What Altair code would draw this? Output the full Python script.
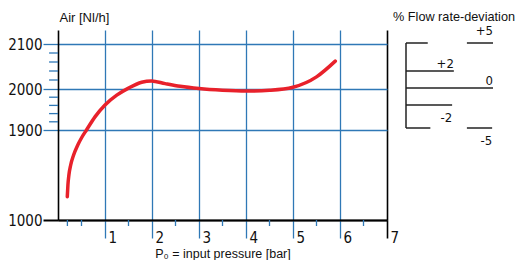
import altair as alt
import pandas as pd

# ---- data ----
pressure = [0.198, 0.211, 0.232, 0.270, 0.332, 0.421, 0.511, 0.606, 0.787, 1.0, 1.25, 1.5, 1.78, 1.99, 2.28, 2.6, 3.0, 3.5, 4.0, 4.5, 5.0, 5.5, 5.9]
air = [1233, 1350, 1450, 1550, 1650, 1750, 1830, 1900, 1932, 1961, 1985, 2002, 2015, 2018, 2012, 2006, 2001, 1997, 1995, 1997, 2004, 2027, 2062]

y_ticks = [1000, 1900, 2000, 2100]
y_minor = [1920, 1940, 1960, 1980, 2020, 2040, 2060, 2080]
x_ticks = [1, 2, 3, 4, 5, 6, 7]
x_minor = [0.2, 0.5, 1.5, 2.5, 3.5, 4.5, 5.5, 6.5]

dev_levels = [5, 5, 2, 0, -2, -5, -5]
dev_start = [0, 0.70, 0, 0, 0, 0, 0.70]
dev_end = [0.25, 1.0, 0.55, 1.0, 0.53, 0.28, 0.99]
dev_label_vals = [5, 2, 0, -2, -5]
dev_label_text = ["+5", "+2", "0", "-2", "-5"]
dev_label_pos = [1.0, 0.55, 1.0, 0.53, 0.99]

BLUE = "#2f78b6"
RED = "#e8212b"
NUM_FONT = "Liberation Sans Narrow, DejaVu Sans Condensed"
TXT_FONT = "Liberation Sans"

xscale = alt.Scale(domain=[0, 7], nice=False, zero=False)
yscale = alt.Scale(domain=[1000, 1900, 2000, 2100, 2130], range=[190, 100, 59, 14, 0], nice=False, zero=False)

curve_df = pd.DataFrame({"p": pressure, "air": air})

x_axis = alt.Axis(
    values=x_ticks,
    format="d",
    tickSize=18,
    tickColor={"condition": {"test": "datum.value === 7", "value": "#000"}, "value": BLUE},
    tickWidth={"condition": {"test": "datum.value === 7", "value": 1.6}, "value": 1.3},
    grid=True,
    gridColor={"condition": {"test": "datum.value === 7", "value": "#000"}, "value": BLUE},
    gridWidth={"condition": {"test": "datum.value === 7", "value": 1.6}, "value": 1.3},
    gridOpacity=1,
    domainColor="#000",
    domainWidth=2,
    labelAlign="left",
    labelBaseline="top",
    labelOffset=3,
    labelPadding=-8,
    labelFont=NUM_FONT,
    labelFontSize=15,
    labelColor="#111",
    title="P₀ = input pressure [bar]",
    titleFont=TXT_FONT,
    titleFontSize=12.5,
    titleFontWeight="normal",
    titleColor="#111",
    titleBaseline="alphabetic",
    titleY=37,
)

y_axis = alt.Axis(
    values=y_ticks,
    format="d",
    tickSize=15,
    tickColor={"condition": {"test": "datum.value === 1000", "value": "#000"}, "value": BLUE},
    tickWidth={"condition": {"test": "datum.value === 1000", "value": 2}, "value": 1.3},
    grid=True,
    gridColor={"condition": {"test": "datum.value === 1000", "value": "#000"}, "value": BLUE},
    gridWidth=1.3,
    gridOpacity=1,
    domainColor="#000",
    domainWidth=1.6,
    labelPadding=1,
    labelFont=NUM_FONT,
    labelFontSize=15,
    labelColor="#111",
    title="Air [Nl/h]",
    titleFont=TXT_FONT,
    titleFontSize=13,
    titleFontWeight="normal",
    titleColor="#111",
    titleAngle=0,
    titleAlign="left",
    titleBaseline="alphabetic",
    titleX=1,
    titleY=-9,
)

curve = alt.Chart(curve_df).mark_line(color=RED, strokeWidth=3.5, interpolate="monotone", strokeCap="round").encode(
    x=alt.X("p:Q", scale=xscale, axis=x_axis),
    y=alt.Y("air:Q", scale=yscale, axis=y_axis),
)

ymin_df = pd.DataFrame({"v": y_minor, "x0": [-0.19] * len(y_minor), "x1": [0] * len(y_minor)})
y_minor_rules = alt.Chart(ymin_df).mark_rule(color=BLUE, strokeWidth=1.3).encode(
    x=alt.X("x0:Q", scale=xscale), x2="x1:Q", y=alt.Y("v:Q", scale=yscale)
)

xmin_df = pd.DataFrame({"v": x_minor, "y0": [1000] * len(x_minor), "y1": [940] * len(x_minor)})
x_minor_rules = alt.Chart(xmin_df).mark_rule(color=BLUE, strokeWidth=1.3).encode(
    x=alt.X("v:Q", scale=xscale), y=alt.Y("y0:Q", scale=yscale), y2="y1:Q"
)

main = alt.layer(curve, y_minor_rules, x_minor_rules)

# ---- deviation diagram ----
lx = alt.Scale(domain=[0, 1], range=[348, 435], nice=False, zero=False)
ly = alt.Scale(domain=[-5, -2, 0, 2, 5], range=[98, 75, 58, 41, 13], nice=False, zero=False)

seg_df = pd.DataFrame({"d": dev_levels, "s": dev_start, "e": dev_end})
segs = alt.Chart(seg_df).mark_rule(color="#222", strokeWidth=1.5).encode(
    x=alt.X("s:Q", scale=lx, axis=None), x2="e:Q", y=alt.Y("d:Q", scale=ly, axis=None)
)
vert_df = pd.DataFrame({"x": [0], "top": [max(dev_levels)], "bot": [min(dev_levels)]})
vert = alt.Chart(vert_df).mark_rule(color="#222", strokeWidth=1.5).encode(
    x=alt.X("x:Q", scale=lx, axis=None), y=alt.Y("top:Q", scale=ly, axis=None), y2="bot:Q"
)
lab_df = pd.DataFrame({"d": dev_label_vals, "t": dev_label_text, "x": dev_label_pos})
lab_top = alt.Chart(lab_df).transform_filter("datum.d == 5").mark_text(
    align="right", baseline="alphabetic", dy=-8, font=NUM_FONT, fontSize=13, color="#111"
).encode(x=alt.X("x:Q", scale=lx, axis=None), y=alt.Y("d:Q", scale=ly, axis=None), text="t:N")
lab_above = alt.Chart(lab_df).transform_filter("datum.d >= 0 && datum.d < 5").mark_text(
    align="right", baseline="alphabetic", dy=-3, font=NUM_FONT, fontSize=13, color="#111"
).encode(x=alt.X("x:Q", scale=lx, axis=None), y=alt.Y("d:Q", scale=ly, axis=None), text="t:N")
lab_below = alt.Chart(lab_df).transform_filter("datum.d < 0").mark_text(
    align="right", baseline="top", dy=7, font=NUM_FONT, fontSize=13, color="#111"
).encode(x=alt.X("x:Q", scale=lx, axis=None), y=alt.Y("d:Q", scale=ly, axis=None), text="t:N")
dev_title = alt.Chart(pd.DataFrame({"t": ["% Flow rate-deviation"]})).mark_text(
    align="left", baseline="alphabetic", font=TXT_FONT, fontSize=12.7, color="#111"
).encode(x=alt.value(335), y=alt.value(-9), text="t:N")

legend = alt.layer(segs, vert, lab_top, lab_above, lab_below, dev_title)

chart = alt.layer(main, legend).resolve_scale(x="independent", y="independent").properties(
    width=329,
    height=190,
    autosize=alt.AutoSizeParams(type="none"),
    padding={"left": 50, "top": 22, "right": 132, "bottom": 40},
).configure_view(stroke=None)

chart.save("out.html", embed_options={"renderer": "svg", "actions": False})
